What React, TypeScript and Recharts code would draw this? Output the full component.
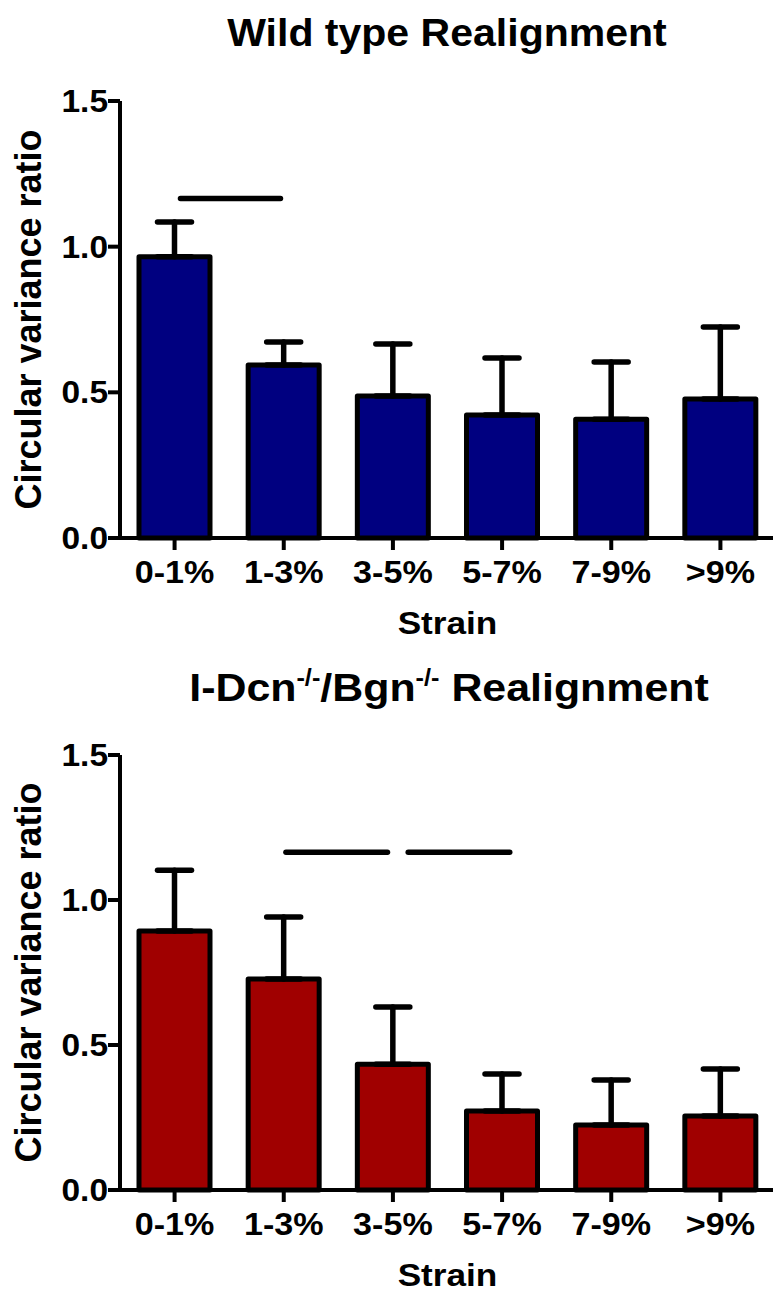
import React from 'react';
import { BarChart, Bar, XAxis, YAxis, ErrorBar, ReferenceLine } from 'recharts';

const categories = ['0-1%', '1-3%', '3-5%', '5-7%', '7-9%', '>9%'];

const wildTypeMean = [0.965, 0.594, 0.487, 0.422, 0.408, 0.477];
const wildTypeSEM = [0.12, 0.079, 0.179, 0.196, 0.196, 0.247];

const knockoutMean = [0.893, 0.728, 0.434, 0.272, 0.224, 0.255];
const knockoutSEM = [0.21, 0.213, 0.197, 0.128, 0.155, 0.162];

const yTicks = [0, 0.5, 1.0, 1.5];

// significance bars, x in category-index units (0 = centre of first category)
const wildTypeSig = [{ from: 0.054, to: 0.97, y: 1.165 }];
const knockoutSig = [
  { from: 1.02, to: 1.95, y: 1.165 },
  { from: 2.14, to: 3.07, y: 1.165 },
];

const FONT = '"Liberation Sans", Arial, Helvetica, sans-serif';
const W = 773;

type Sig = { from: number; to: number; y: number };

function XTick(props: any) {
  const { x, y, payload } = props;
  return (
    <text
      transform={`translate(${x},${y}) scale(1.1,1)`}
      textAnchor="middle"
      dy="0.71em"
      fontSize={31}
      fontWeight="bold"
      fontFamily={FONT}
      fill="#000"
    >
      {payload.value}
    </text>
  );
}

function YTick(props: any) {
  const { x, y, payload } = props;
  return (
    <text
      transform={`translate(${x},${y}) scale(1.08,1)`}
      textAnchor="end"
      dy="0.355em"
      fontSize={31}
      fontWeight="bold"
      fontFamily={FONT}
      fill="#000"
    >
      {Number(payload.value).toFixed(1)}
    </text>
  );
}

type PanelProps = {
  title: React.ReactNode;
  means: number[];
  sems: number[];
  fill: string;
  sig: Sig[];
  height: number;
  plotTop: number;
  plotBottom: number;
};

function Panel(p: PanelProps) {
  const data = categories.map((c, i) => ({
    name: c,
    idx: i,
    mean: p.means[i],
    err: [0, p.sems[i]],
  }));
  const plotCenterY = (p.plotTop + p.plotBottom) / 2;
  const plotCenterX = (120 + W + 2) / 2;
  return (
    <div style={{ position: 'relative', width: W, height: p.height, overflow: 'hidden' }}>
      <BarChart
        width={W}
        height={p.height}
        data={data}
        margin={{ top: p.plotTop, right: -2, bottom: 0, left: 0 }}
      >
        <XAxis
          dataKey="name"
          interval={0}
          height={p.height - p.plotBottom}
          tickSize={12}
          tickMargin={11}
          axisLine={{ stroke: '#000', strokeWidth: 4 }}
          tickLine={{ stroke: '#000', strokeWidth: 4 }}
          tick={<XTick />}
          label={{
            content: () => (
              <text
                transform={`translate(${plotCenterX},${p.plotBottom + 96}) scale(1.1,1)`}
                textAnchor="middle"
                fontSize={32}
                fontWeight="bold"
                fontFamily={FONT}
                fill="#000"
              >
                Strain
              </text>
            ),
          }}
        />
        <XAxis
          xAxisId="sig"
          dataKey="idx"
          type="number"
          domain={[-0.5, 5.5]}
          hide
          allowDataOverflow
        />
        <YAxis
          domain={[0, 1.5]}
          ticks={yTicks}
          width={120}
          tickSize={12}
          tickMargin={0}
          interval={0}
          axisLine={{ stroke: '#000', strokeWidth: 4 }}
          tickLine={{ stroke: '#000', strokeWidth: 4 }}
          tick={<YTick />}
          label={{
            content: () => (
              <text
                transform={`rotate(-90, 41, ${plotCenterY})`}
                x={41}
                y={plotCenterY}
                textAnchor="middle"
                fontSize={36}
                fontWeight="bold"
                fontFamily={FONT}
                fill="#000"
              >
                Circular variance ratio
              </text>
            ),
          }}
        />
        <Bar
          dataKey="mean"
          fill={p.fill}
          stroke="#000"
          strokeWidth={5}
          strokeLinejoin="round"
          barSize={71}
          isAnimationActive={false}
        >
          <ErrorBar
            dataKey="err"
            direction="y"
            width={17}
            stroke="#000"
            strokeWidth={5.5}
            strokeLinecap="round"
            isAnimationActive={false}
          />
        </Bar>
        {p.sig.map((s, i) => (
          <ReferenceLine
            key={i}
            xAxisId="sig"
            segment={[
              { x: s.from, y: s.y },
              { x: s.to, y: s.y },
            ]}
            stroke="#000"
            strokeWidth={5.5}
            strokeLinecap="round"
            ifOverflow="visible"
          />
        ))}
      </BarChart>
      <svg
        width={W}
        height={80}
        style={{ position: 'absolute', left: 0, top: 0, pointerEvents: 'none' }}
      >
        {p.title}
      </svg>
    </div>
  );
}

export default function App() {
  const titleProps = {
    textAnchor: 'middle' as const,
    fontWeight: 'bold',
    fontFamily: FONT,
    fill: '#000',
  };
  return (
    <div style={{ position: 'absolute', left: 0, top: 0, width: W, height: 1303, background: '#fff', overflow: 'hidden' }}>
      <Panel
        title={
          <text transform="translate(447,46) scale(1.08,1)" fontSize={38} {...titleProps}>
            Wild type Realignment
          </text>
        }
        means={wildTypeMean}
        sems={wildTypeSEM}
        fill="#000080"
        sig={wildTypeSig}
        height={650}
        plotTop={101}
        plotBottom={538}
      />
      <Panel
        title={
          <text transform="translate(449,51) scale(1.1,1)" fontSize={39} {...titleProps}>
            I-Dcn
            <tspan fontSize={23} dy={-15}>-/-</tspan>
            <tspan dy={15}>/Bgn</tspan>
            <tspan fontSize={23} dy={-15}>-/-</tspan>
            <tspan dy={15}>{' Realignment'}</tspan>
          </text>
        }
        means={knockoutMean}
        sems={knockoutSEM}
        fill="#A00000"
        sig={knockoutSig}
        height={653}
        plotTop={105}
        plotBottom={540}
      />
    </div>
  );
}
